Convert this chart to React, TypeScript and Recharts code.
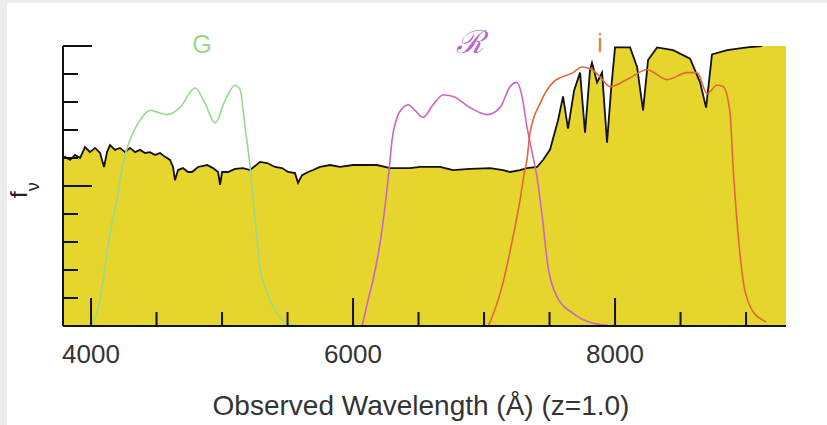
import { Area, ComposedChart, Line, XAxis, YAxis } from "recharts"

// observed galaxy spectrum (arbitrary f_nu units, 0-10)
const spectrumWave = [
  3786, 3802, 3840, 3878, 3916, 3954, 3992, 4031, 4069, 4099, 4122, 4145, 4183, 4221, 4260, 4298,
  4336, 4374, 4412, 4450, 4489, 4527, 4565, 4603, 4626, 4641, 4664, 4702, 4740, 4771, 4817, 4886,
  4931, 4970, 4985, 5000, 5046, 5099, 5160, 5214, 5290, 5344, 5405, 5458, 5504, 5557, 5580, 5611,
  5657, 5695, 5748, 5825, 5901, 6000, 6183, 6283, 6435, 6512, 6664, 6763, 6893, 7046, 7145, 7199,
  7275, 7328, 7405, 7450, 7504, 7565, 7603, 7641, 7687, 7733, 7771, 7809, 7824, 7863, 7901, 7939,
  7969, 8000, 8115, 8168, 8214, 8252, 8321, 8443, 8573, 8649, 8695, 8740, 8855, 9008, 9122,
]
const spectrumFlux = [
  6.0, 6.04, 5.93, 6.11, 6.0, 6.39, 6.21, 6.36, 6.18, 5.68, 6.21, 6.46, 6.29, 6.36, 6.21, 6.36,
  6.21, 6.29, 6.18, 6.21, 6.11, 6.18, 6.04, 5.93, 5.68, 5.21, 5.57, 5.64, 5.5, 5.5, 5.68, 5.75,
  5.64, 5.5, 5.04, 5.5, 5.5, 5.61, 5.64, 5.57, 5.86, 5.82, 5.68, 5.64, 5.5, 5.46, 5.11, 5.39,
  5.5, 5.57, 5.68, 5.75, 5.68, 5.75, 5.75, 5.64, 5.64, 5.68, 5.68, 5.57, 5.61, 5.64, 5.57, 5.5,
  5.57, 5.64, 5.68, 5.93, 6.3, 7.35, 8.2, 7.05, 8.4, 9.05, 6.9, 9.15, 9.4, 8.7, 9.05, 6.55,
  8.4, 9.95, 9.95, 9.25, 7.7, 9.5, 9.95, 9.85, 9.55, 8.7, 7.8, 9.7, 9.85, 9.95, 10.0,
]
// continuum fill beyond the plotted spectrum line
const fillWave = [9122, 9305]
const fillFlux = [10.0, 10.0]

// filter transmission curves
const gWave = [
  4000, 4069, 4107, 4145, 4198, 4229, 4260, 4321, 4382, 4450, 4580, 4679, 4794, 4870, 4947, 5023,
  5099, 5137, 5176, 5214, 5237, 5267, 5290, 5344, 5420, 5519, 5595,
]
const gTrans = [
  0, 0.93, 2.1, 3.3, 4.5, 5.4, 6.1, 6.9, 7.4, 7.7, 7.55, 7.8, 8.5, 7.95, 7.25, 8.05,
  8.6, 8.45, 7.1, 5.7, 4.5, 3.1, 2.1, 1.2, 0.45, 0.05, 0,
]
const rWave = [
  6069, 6115, 6153, 6206, 6244, 6275, 6298, 6336, 6382, 6420, 6473, 6534, 6611, 6687, 6764, 6893,
  7023, 7122, 7199, 7252, 7290, 7328, 7367, 7405, 7443, 7489, 7557, 7680, 7832, 8000,
]
const rTrans = [
  0, 0.93, 1.65, 2.95, 4.25, 5.55, 6.65, 7.45, 7.8, 7.9, 7.7, 7.45, 7.9, 8.25, 8.2, 7.8,
  7.55, 7.8, 8.55, 8.7, 8.2, 7.1, 6.2, 5.3, 3.95, 2.1, 1.05, 0.45, 0.1, 0,
]
const iWave = [
  7031, 7046, 7145, 7222, 7275, 7305, 7328, 7351, 7428, 7527, 7680, 7748, 7824, 7886, 7962, 8092,
  8244, 8397, 8550, 8626, 8702, 8779, 8825, 8878, 8901, 8939, 8977, 9031, 9130, 9153,
]
const iTrans = [
  0, 0.15, 1.55, 3.2, 4.5, 5.4, 5.95, 6.9, 7.95, 8.7, 9.05, 9.25, 9.15, 8.9, 8.55, 8.8,
  9.15, 8.8, 9.05, 9.05, 8.3, 8.6, 8.55, 7.6, 5.7, 3.3, 1.65, 0.7, 0.2, 0.15,
]

const xTicks = [4000, 4500, 5000, 5500, 6000, 6500, 7000, 7500, 8000, 8500, 9000]
const xLabels = [4000, 6000, 8000]
const yTicks = [0, 1, 2, 3, 4, 5, 6, 7, 8, 9, 10]
const yMajor = [5, 10]

const toRows = (xs: number[], ys: number[]) => xs.map((w, i) => ({ w, v: ys[i] }))

const FONT = "'Liberation Sans', Arial, Helvetica, sans-serif"
const YELLOW = "#e5d52c"

function XTick(props: any) {
  const { x, y, payload } = props
  const major = xLabels.includes(payload.value)
  return (
    <g>
      <line x1={x} x2={x} y1={y} y2={y - (major ? 28 : 14)} stroke="#111" strokeWidth={2} />
      {major && (
        <text x={x} y={y + 37} textAnchor="middle" fontFamily={FONT} fontSize={26} fill="#333">
          {payload.value}
        </text>
      )}
    </g>
  )
}

function YTick(props: any) {
  const { x, y, payload } = props
  if (payload.value === 0) return <g />
  const major = yMajor.includes(payload.value)
  return <line x1={x} x2={x + (major ? 29 : 15)} y1={y} y2={y} stroke="#111" strokeWidth={2} />
}

export default function App() {
  return (
    <div
      style={{
        position: "absolute",
        left: 0,
        top: 0,
        width: 827,
        height: 425,
        background: "#ececec",
        overflow: "hidden",
      }}
    >
      <div style={{ position: "absolute", left: 7, top: 3, right: 0, bottom: 0, background: "#fff" }} />
      <div style={{ position: "absolute", left: 0, top: 0 }}>
        <ComposedChart width={827} height={425} margin={{ top: 46, right: 41, left: 33, bottom: 39 }}>
          <XAxis
            type="number"
            dataKey="w"
            domain={[3786, 9305]}
            ticks={xTicks}
            interval={0}
            height={60}
            tickSize={0}
            tickMargin={0}
            tick={XTick}
            axisLine={{ stroke: "#111", strokeWidth: 2 }}
            allowDataOverflow
          />
          <YAxis
            type="number"
            domain={[0, 10]}
            ticks={yTicks}
            interval={0}
            width={30}
            tickSize={0}
            tickMargin={0}
            tick={YTick}
            axisLine={{ stroke: "#111", strokeWidth: 2 }}
            allowDataOverflow
          />
          <Area
            data={toRows(fillWave, fillFlux)}
            dataKey="v"
            type="linear"
            fill={YELLOW}
            fillOpacity={1}
            stroke="none"
            isAnimationActive={false}
          />
          <Area
            data={toRows(spectrumWave, spectrumFlux)}
            dataKey="v"
            type="linear"
            fill={YELLOW}
            fillOpacity={1}
            stroke="#111"
            strokeWidth={1.8}
            isAnimationActive={false}
          />
          <Line
            data={toRows(gWave, gTrans)}
            dataKey="v"
            type="monotone"
            stroke="#98d98c"
            strokeWidth={1.6}
            dot={false}
            isAnimationActive={false}
          />
          <Line
            data={toRows(rWave, rTrans)}
            dataKey="v"
            type="monotone"
            stroke="#c865c6"
            strokeWidth={1.6}
            dot={false}
            isAnimationActive={false}
          />
          <Line
            data={toRows(iWave, iTrans)}
            dataKey="v"
            type="monotone"
            stroke="#e0683a"
            strokeWidth={1.6}
            dot={false}
            isAnimationActive={false}
          />
        </ComposedChart>
      </div>
      <svg
        width={827}
        height={425}
        style={{ position: "absolute", left: 0, top: 0, pointerEvents: "none" }}
      >
        <text x={202} y={53} textAnchor="middle" fontFamily={FONT} fontSize={25} fill="#98d98c">
          G
        </text>
        <text
          x={470}
          y={53}
          textAnchor="middle"
          fontFamily="'DejaVu Serif', serif"
          fontStyle="italic"
          fontSize={32}
          fill="#b56cc8"
        >
          ℛ
        </text>
        <text x={600} y={52} textAnchor="middle" fontFamily={FONT} fontSize={25} fill="#e0803f">
          i
        </text>
        <text
          x={27}
          y={198}
          transform="rotate(-90 27 198)"
          fontFamily={FONT}
          fontSize={24}
          fill="#222"
        >
          f
          <tspan dy={12} fontSize={18}>
            ν
          </tspan>
        </text>
        <text x={421} y={415} textAnchor="middle" fontFamily={FONT} fontSize={28} fill="#333">
          Observed Wavelength (Å) (z=1.0)
        </text>
      </svg>
    </div>
  )
}
